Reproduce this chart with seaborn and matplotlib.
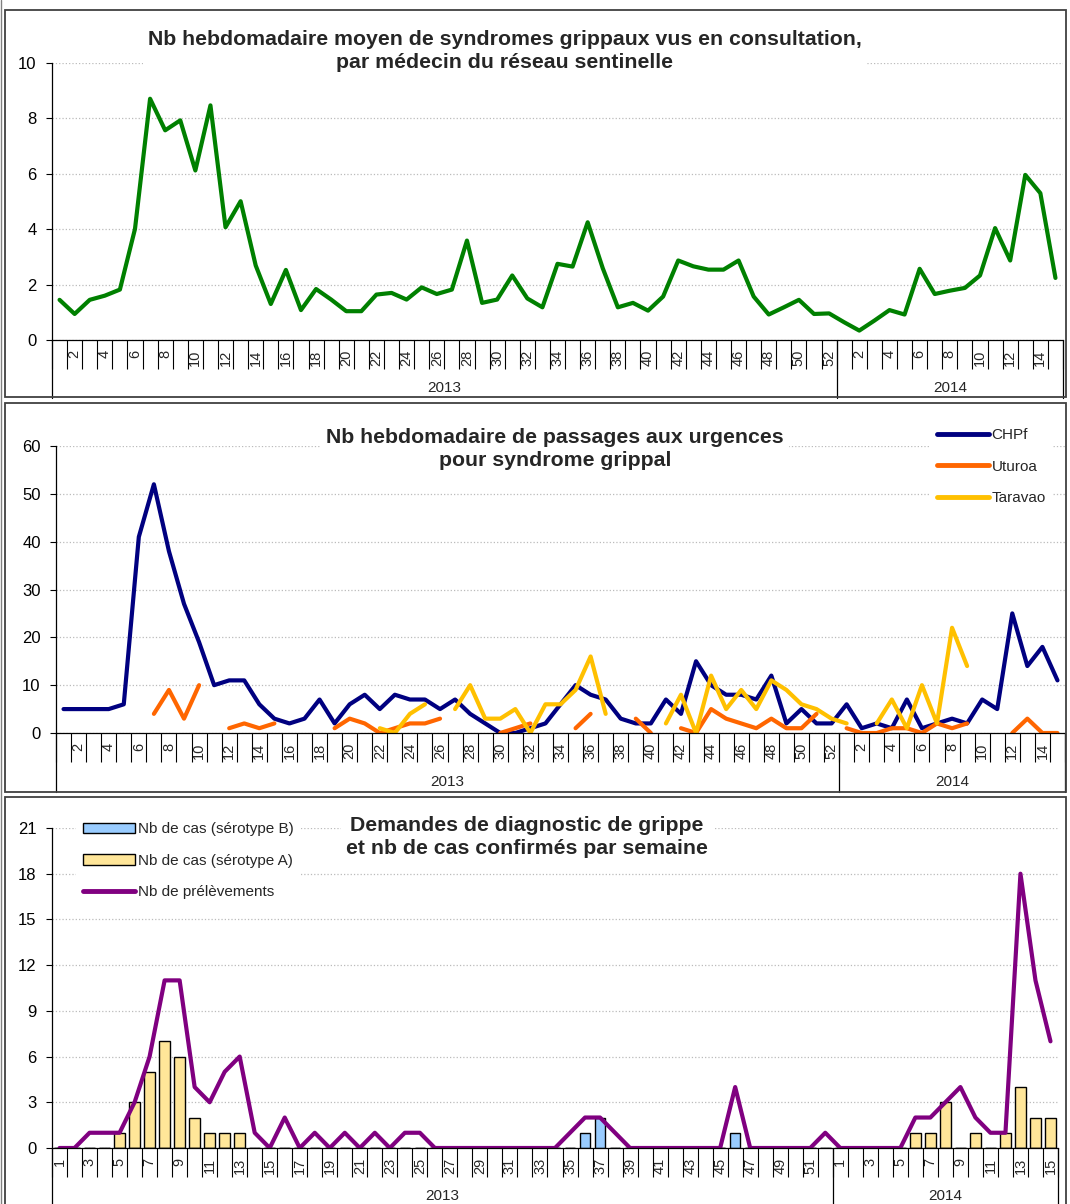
import numpy as np
import pandas as pd
import seaborn as sns
import matplotlib.pyplot as plt
from matplotlib.lines import Line2D
from matplotlib.patches import Patch, Rectangle

# weeks: 2013 (1-52) then 2014 (1-15)
weeks_2013 = list(range(1, 53))
weeks_2014 = list(range(1, 16))
weeks = weeks_2013 + weeks_2014
years = ["2013", "2014"]

# panel 1 : mean weekly ILI per sentinel GP
ili_gp = [1.45, 0.94, 1.45, 1.6, 1.82, 4.01, 8.71, 7.57, 7.93, 6.12,
          8.47, 4.07, 5.01, 2.69, 1.30, 2.53, 1.08, 1.84, 1.46, 1.04,
          1.04, 1.64, 1.70, 1.46, 1.90, 1.66, 1.82, 3.59, 1.34, 1.46,
          2.33, 1.50, 1.18, 2.75, 2.65, 4.25, 2.59, 1.18, 1.34, 1.06,
          1.57, 2.87, 2.66, 2.54, 2.54, 2.87, 1.57, 0.92, 1.18, 1.45,
          0.94, 0.96,
          0.64, 0.34, 0.70, 1.08, 0.92, 2.57, 1.66, 1.78, 1.88, 2.33,
          4.04, 2.87, 5.96, 5.30, 2.24]

# panel 2 : emergency visits (None = no data)
N = None
chpf = [5, 5, 5, 5, 6, 41, 52, 38, 27, 19,
        10, 11, 11, 6, 3, 2, 3, 7, 2, 6,
        8, 5, 8, 7, 7, 5, 7, 4, 2, 0,
        0, 1, 2, 6, 10, 8, 7, 3, 2, 2,
        7, 4, 15, 10, 8, 8, 7, 12, 2, 5,
        2, 2,
        6, 1, 2, 1, 7, 1, 2, 3, 2, 7, 5, 25, 14, 18, 11]
uturoa = [N, N, N, N, N, N, 4, 9, 3, 10,
          N, 1, 2, 1, 2, N, N, N, 1, 3,
          2, 0, 1, 2, 2, 3, N, N, N, 0,
          1, 2, N, N, 1, 4, N, N, 3, 0,
          N, 1, 0, 5, 3, 2, 1, 3, 1, 1,
          4, N,
          1, 0, 0, 1, 1, 0, 2, 1, 2, N, N, 0, 3, 0, 0]
taravao = [N, N, N, N, N, N, N, N, N, N,
           N, N, N, N, N, N, N, N, N, N,
           N, 1, 0, 4, 6, N, 5, 10, 3, 3,
           5, 0, 6, 6, 9, 16, 4, N, N, N,
           2, 8, 0, 12, 5, 9, 5, 11, 9, 6,
           5, 3,
           2, N, 2, 7, 1, 10, 2, 22, 14, N, N, N, N, N, N]

# panel 3 : lab requests and confirmed cases
prelevements = [0, 0, 1, 1, 1, 3, 6, 11, 11, 4,
                3, 5, 6, 1, 0, 2, 0, 1, 0, 1,
                0, 1, 0, 1, 1, 0, 0, 0, 0, 0,
                0, 0, 0, 0, 1, 2, 2, 1, 0, 0,
                0, 0, 0, 0, 0, 4, 0, 0, 0, 0,
                0, 1,
                0, 0, 0, 0, 0, 2, 2, 3, 4, 2, 1, 1, 18, 11, 7]
cas_a = [0, 0, 0, 0, 1, 3, 5, 7, 6, 2,
         1, 1, 1, 0, 0, 0, 0, 0, 0, 0,
         0, 0, 0, 0, 0, 0, 0, 0, 0, 0,
         0, 0, 0, 0, 0, 0, 0, 0, 0, 0,
         0, 0, 0, 0, 0, 0, 0, 0, 0, 0,
         0, 0,
         0, 0, 0, 0, 0, 1, 1, 3, 0, 1, 0, 1, 4, 2, 2]
cas_b = [0] * 35 + [1, 2] + [0] * 8 + [1] + [0] * 6 + [0] * 15

sns.set_style("white")
plt.rcParams["font.family"] = ["Liberation Sans", "DejaVu Sans"]

W, H = 1070, 1204
fig = plt.figure(figsize=(W / 100, H / 100), dpi=100)


def add_ax(left, top, right, bottom):
    return fig.add_axes([left / W, 1 - bottom / H, (right - left) / W, (bottom - top) / H])


def frame_axes(ax, yticks, ymax, ax_h, drop, year_off, label_parity):
    n = len(weeks)
    ax.set_xlim(-0.5, n - 0.5)
    ax.set_ylim(0, ymax)
    ax.set_yticks(yticks)
    ax.tick_params(axis="y", left=True, length=4, width=0.8, pad=7, labelsize=12,
                   colors="black", direction="out")
    ax.yaxis.grid(True, linestyle=":", color="#BBBBBB", lw=0.9)
    ax.xaxis.grid(False)
    for s in ["top", "right"]:
        ax.spines[s].set_visible(False)
    for s in ["left", "bottom"]:
        ax.spines[s].set_color("black")
        ax.spines[s].set_linewidth(0.9)
    labels = [str(w) if w % 2 == label_parity else "" for w in weeks]
    ax.set_xticks(range(n))
    ax.set_xticklabels(labels, rotation=90, fontsize=10.5)
    ax.set_xticks(np.arange(-0.5, n), minor=True)
    ax.tick_params(axis="x", which="major", bottom=True, length=0, pad=7)
    ax.tick_params(axis="x", which="minor", bottom=True, length=21, width=0.8,
                   color="black", direction="out")
    ax.set_xlabel("")
    ax.set_ylabel("")
    trans = ax.get_xaxis_transform()
    for xb in [-0.5, len(weeks_2013) - 0.5, n - 0.5]:
        ax.plot([xb, xb], [0, -drop / ax_h], transform=trans, color="black",
                lw=0.9, clip_on=False)
    ax.text((len(weeks_2013) - 1) / 2, -year_off / ax_h, years[0], transform=trans,
            ha="center", va="center", fontsize=11)
    ax.text(len(weeks_2013) + (len(weeks_2014) - 1) / 2, -year_off / ax_h, years[1],
            transform=trans, ha="center", va="center", fontsize=11)


def segments(values):
    df = pd.DataFrame({"x": range(len(values)), "y": pd.array(values, dtype="Float64").astype(float)})
    df["seg"] = df["y"].isna().cumsum()
    return df.dropna()


xpos = np.arange(len(weeks))
title_kw = dict(ha="center", va="center", fontsize=15.3, fontweight="bold", linespacing=1.3,
                bbox=dict(facecolor="white", edgecolor="none", pad=4))
leg_kw = dict(loc="upper left", bbox_transform=fig.transFigure, fontsize=11, frameon=True,
              facecolor="white", edgecolor="none", framealpha=1, fancybox=False,
              handlelength=3.4, handletextpad=0.15, labelspacing=1.15, borderpad=0.5)

# ---- panel 1
ax1 = add_ax(52, 63, 1063, 340)
sns.lineplot(x=xpos, y=ili_gp, ax=ax1, color="#008000", lw=3)
frame_axes(ax1, range(0, 11, 2), 10, 277, 58, 48, 0)
fig.text(505 / W, 1 - 51 / H,
         "Nb hebdomadaire moyen de syndromes grippaux vus en consultation,\npar médecin du réseau sentinelle",
         **title_kw)

# ---- panel 2
ax2 = add_ax(56, 446, 1065, 733)
series2 = [("CHPf", chpf, "#000080"), ("Uturoa", uturoa, "#FF6600"), ("Taravao", taravao, "#FFC000")]
for name, vals, col in series2:
    d = segments(vals)
    sns.lineplot(data=d, x="x", y="y", units="seg", estimator=None, ax=ax2, color=col, lw=3)
frame_axes(ax2, range(0, 61, 10), 60, 287, 59, 49, 0)
fig.text(555 / W, 1 - 449 / H,
         "Nb hebdomadaire de passages aux urgences\npour syndrome grippal", **title_kw)
handles2 = [Line2D([], [], color=c, lw=3.5, solid_capstyle="round") for _, _, c in series2]
fig.legend(handles2, [s[0] for s in series2], bbox_to_anchor=(922 / W, 1 - 413 / H), **leg_kw)

# ---- panel 3
ax3 = add_ax(52, 828, 1058, 1148)
sns.barplot(x=xpos, y=cas_a, native_scale=True, width=0.7, color="#FFE699", saturation=1,
            edgecolor="black", linewidth=1, errorbar=None, ax=ax3)
sns.barplot(x=xpos, y=cas_b, native_scale=True, width=0.7, color="#99CCFF", saturation=1,
            edgecolor="black", linewidth=1, errorbar=None, ax=ax3)
sns.lineplot(x=xpos, y=prelevements, ax=ax3, color="#800080", lw=3)
frame_axes(ax3, range(0, 22, 3), 21, 320, 60, 48, 1)
fig.text(527 / W, 1 - 837 / H,
         "Demandes de diagnostic de grippe\net nb de cas confirmés par semaine", **title_kw)
handles3 = [Patch(facecolor="#99CCFF", edgecolor="black", lw=1),
            Patch(facecolor="#FFE699", edgecolor="black", lw=1),
            Line2D([], [], color="#800080", lw=3.5, solid_capstyle="round")]
fig.legend(handles3, ["Nb de cas (sérotype B)", "Nb de cas (sérotype A)", "Nb de prélèvements"],
           bbox_to_anchor=(68 / W, 1 - 807 / H), **leg_kw)

# panel frames
for top, bottom in [(10, 397), (403, 792), (797, 1210)]:
    fig.add_artist(Rectangle((5 / W, 1 - bottom / H), 1061 / W, (bottom - top) / H,
                             transform=fig.transFigure, fill=False, edgecolor="#404040", lw=1.3))
fig.add_artist(Line2D([1.5 / W, 1.5 / W], [0, 1], transform=fig.transFigure, color="#808080", lw=1))

fig.savefig("out.png", dpi=100)
